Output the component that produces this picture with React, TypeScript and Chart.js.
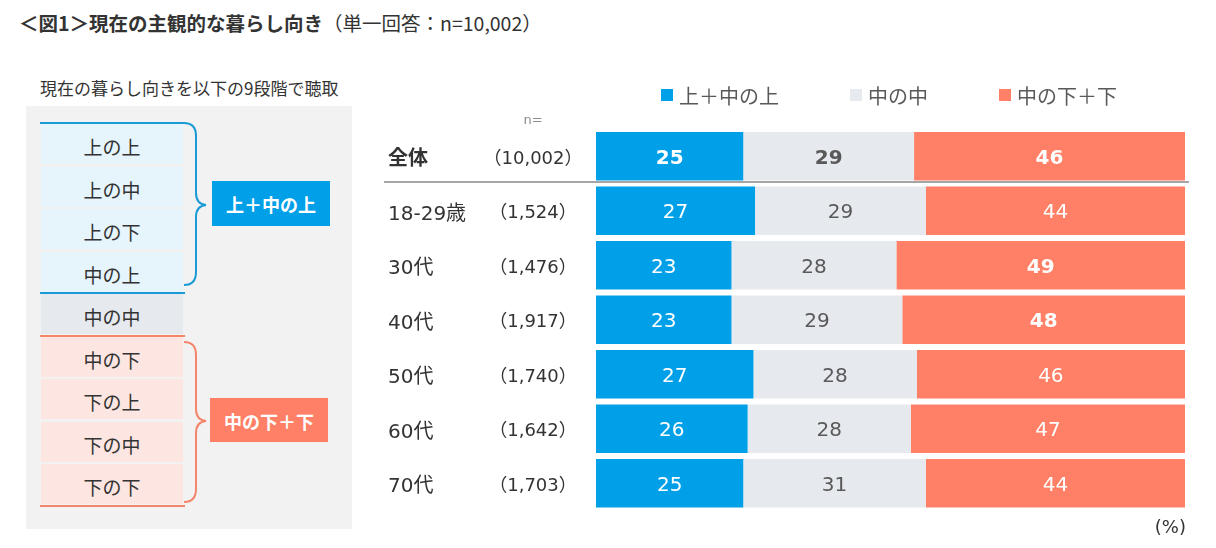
import React, { useEffect, useRef } from "react";
import { Chart, registerables } from "chart.js";

Chart.register(...registerables);

// ---- data ----
const categories = ["全体", "18-29歳", "30代", "40代", "50代", "60代", "70代"];
const sampleSizes = ["（10,002）", "（1,524）", "（1,476）", "（1,917）", "（1,740）", "（1,642）", "（1,703）"];
const seriesNames = ["上＋中の上", "中の中", "中の下＋下"];
const upperValues = [25, 27, 23, 23, 27, 26, 25];
const middleValues = [29, 29, 28, 29, 28, 28, 31];
const lowerValues = [46, 44, 49, 48, 46, 47, 44];
// cells whose label is bold: [seriesIndex, rowIndex]
const boldCells: [number, number][] = [[0, 0], [1, 0], [2, 0], [2, 2], [2, 3]];
const scaleLabels = ["上の上", "上の中", "上の下", "中の上", "中の中", "中の下", "下の上", "下の中", "下の下"];
const groupLabels = ["上＋中の上", "中の下＋下"];

const BLUE = "#00a0e9";
const GRAY = "#e6e9ee";
const SALMON = "#ff8066";
const TEXT = "#333333";
const NUM_FONT = '"DejaVu Sans", "Noto Sans CJK JP", sans-serif';
const JP_FONT = '"Noto Sans CJK JP", "DejaVu Sans", sans-serif';

const rawSeries = [upperValues, middleValues, lowerValues];
const colors = [BLUE, GRAY, SALMON];

const labelPlugin = {
  id: "customLabels",
  afterDatasetsDraw(chart: any) {
    const ctx = chart.ctx;
    const yScale = chart.scales.y;
    ctx.save();
    // category + n labels
    categories.forEach((c, i) => {
      const y = yScale.getPixelForValue(i);
      ctx.fillStyle = TEXT;
      ctx.textBaseline = "middle";
      ctx.textAlign = "left";
      ctx.font = `${i === 0 ? "bold " : ""}20px ${NUM_FONT}`;
      ctx.fillText(c, 388, y + 4);
      ctx.textAlign = "center";
      ctx.font = `18px ${NUM_FONT}`;
      ctx.fillText(sampleSizes[i], 533, y + 3);
    });
    // separator under first row
    const firstBar = chart.getDatasetMeta(0).data[0];
    const sepY = firstBar.y + firstBar.height / 2 + 1.5;
    ctx.strokeStyle = "#a6a6a6";
    ctx.lineWidth = 2;
    ctx.beginPath();
    ctx.moveTo(384, sepY);
    ctx.lineTo(1189, sepY);
    ctx.stroke();
    // value labels
    chart.data.datasets.forEach((ds: any, di: number) => {
      const meta = chart.getDatasetMeta(di);
      meta.data.forEach((bar: any, ri: number) => {
        const bold = boldCells.some(([s, r]) => s === di && r === ri);
        ctx.font = `${bold ? "bold " : ""}20px ${NUM_FONT}`;
        ctx.fillStyle = di === 1 ? "#595959" : "#ffffff";
        ctx.textAlign = "center";
        ctx.textBaseline = "middle";
        ctx.fillText(String(rawSeries[di][ri]), (bar.x + bar.base) / 2, bar.y + 2.5);
      });
    });
    ctx.restore();
  },
};

function LeftPanel() {
  const rowTops = [124, 166.5, 209, 251.5, 294, 336.5, 379, 421.5, 464];
  const bgs = ["#e6f4fc", "#e6f4fc", "#e6f4fc", "#e6f4fc", GRAY, "#fde6e1", "#fde6e1", "#fde6e1", "#fde6e1"];
  return (
    <>
      <div style={{ position: "absolute", left: 26, top: 106, width: 326, height: 423, background: "#f2f2f2" }} />
      <div style={{ position: "absolute", left: 40, top: 76, fontSize: 17, lineHeight: "24px", color: TEXT, fontFamily: JP_FONT, whiteSpace: "nowrap" }}>
        現在の暮らし向きを以下の9段階で聴取
      </div>
      {scaleLabels.map((t, i) => (
        <div
          key={t}
          style={{
            position: "absolute", left: 41, top: rowTops[i], width: 142, height: 40,
            background: bgs[i], color: TEXT, fontFamily: JP_FONT, fontSize: 19,
            lineHeight: "46px", textAlign: "center", overflow: "visible",
          }}
        >
          {t}
        </div>
      ))}
      <div style={{ position: "absolute", left: 40, top: 122, width: 145, height: 2, background: "#1a9ad6" }} />
      <div style={{ position: "absolute", left: 40, top: 291.5, width: 145, height: 2, background: "#1a9ad6" }} />
      <div style={{ position: "absolute", left: 40, top: 334.5, width: 145, height: 2, background: "#f4866c" }} />
      <div style={{ position: "absolute", left: 40, top: 504.5, width: 145, height: 2, background: "#f4866c" }} />
      <svg style={{ position: "absolute", left: 0, top: 0 }} width={360} height={548}>
        <path d="M184,123 Q196,123 196,136 L196,193 Q196,204 206,205 Q196,206 196,217 L196,272 Q196,285 184,285" fill="none" stroke="#1a9ad6" strokeWidth={2} />
        <path d="M184,342 Q196,342 196,355 L196,409 Q196,420 206,421 Q196,422 196,433 L196,489 Q196,502 184,502" fill="none" stroke="#f4866c" strokeWidth={2} />
      </svg>
      <div style={{ position: "absolute", left: 212, top: 181, width: 118, height: 45, background: BLUE, color: "#fff", fontWeight: "bold", fontSize: 18, lineHeight: "47px", textAlign: "center", fontFamily: JP_FONT }}>
        {groupLabels[0]}
      </div>
      <div style={{ position: "absolute", left: 210, top: 398, width: 118, height: 44, background: SALMON, color: "#fff", fontWeight: "bold", fontSize: 18, lineHeight: "46px", textAlign: "center", fontFamily: JP_FONT }}>
        {groupLabels[1]}
      </div>
    </>
  );
}

function Legend() {
  const xs = [661, 850, 999];
  return (
    <>
      {seriesNames.map((n, i) => (
        <div key={n} style={{ position: "absolute", left: xs[i], top: 82, height: 26, display: "flex", alignItems: "center", whiteSpace: "nowrap" }}>
          <span style={{ display: "inline-block", width: 12, height: 12, background: colors[i], marginRight: 6 }} />
          <span style={{ fontFamily: JP_FONT, fontSize: 20, color: "#595959" }}>{n}</span>
        </div>
      ))}
    </>
  );
}

export default function App() {
  const canvasRef = useRef<HTMLCanvasElement | null>(null);

  useEffect(() => {
    if (!canvasRef.current) return;
    const sums = categories.map((_, i) => upperValues[i] + middleValues[i] + lowerValues[i]);
    const chart = new Chart(canvasRef.current, {
      type: "bar",
      data: {
        labels: categories,
        datasets: rawSeries.map((vals, di) => ({
          label: seriesNames[di],
          data: vals.map((v, i) => (v / sums[i]) * 100),
          backgroundColor: colors[di],
          borderWidth: 0,
          categoryPercentage: 1,
          barPercentage: 0.89,
        })),
      },
      options: {
        indexAxis: "y",
        responsive: false,
        animation: false,
        layout: { padding: { left: 596, right: 31, top: 129, bottom: 37.5 } },
        scales: {
          x: { stacked: true, min: 0, max: 100, display: false },
          y: { stacked: true, display: false },
        },
        plugins: { legend: { display: false }, tooltip: { enabled: false } },
      },
      plugins: [labelPlugin],
    });
    return () => chart.destroy();
  }, []);

  return (
    <div style={{ position: "absolute", left: 0, top: 0, width: 1216, height: 548, background: "#fff", overflow: "hidden" }}>
      <div style={{ position: "absolute", left: 19, top: 9, whiteSpace: "nowrap", color: TEXT, fontFamily: JP_FONT, lineHeight: "28px" }}>
        <span style={{ fontSize: 19.5, fontWeight: "bold" }}>＜図1＞現在の主観的な暮らし向き</span>
        <span style={{ fontSize: 19.5 }}>（単一回答：n=10,002）</span>
      </div>
      <LeftPanel />
      <canvas ref={canvasRef} width={1216} height={548} style={{ position: "absolute", left: 0, top: 0 }} />
      <Legend />
      <div style={{ position: "absolute", left: 533, top: 111, transform: "translateX(-50%)", fontSize: 13, color: "#8c8c8c", fontFamily: NUM_FONT, lineHeight: "18px" }}>n=</div>
      <div style={{ position: "absolute", right: 30, top: 515, fontSize: 18, color: TEXT, fontFamily: NUM_FONT, lineHeight: "24px" }}>(%)</div>
    </div>
  );
}
